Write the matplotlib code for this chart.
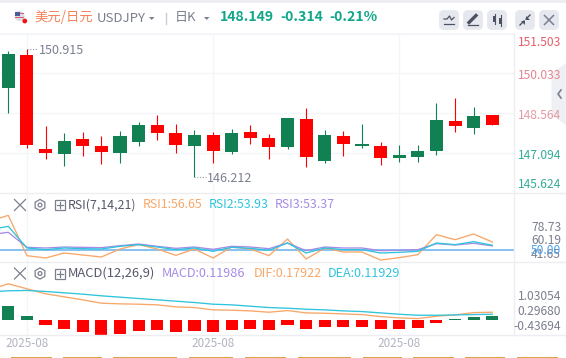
import matplotlib
matplotlib.use("Agg")
import matplotlib.pyplot as plt
from matplotlib.patches import FancyBboxPatch, Polygon, Circle, Rectangle, RegularPolygon

plt.rcParams['font.family'] = ['Noto Sans CJK SC', 'DejaVu Sans']

# ---------- data ----------
opens = [149.494, 150.707, 147.253, 147.070, 147.621, 147.363, 147.106, 147.510, 148.135, 147.841,
         147.363, 147.768, 147.143, 147.878, 147.657, 147.327, 148.355, 146.812, 147.731, 147.363,
         147.363, 146.923, 146.959, 147.180, 148.282, 148.025, 148.502]
highs = [150.854, 150.915, 148.098, 147.841, 147.878, 147.731, 147.914, 148.245, 148.502, 148.172,
         147.951, 147.878, 147.988, 148.135, 147.804, 148.392, 148.759, 147.951, 147.914, 148.172,
         147.510, 147.400, 147.400, 148.943, 149.127, 148.796, 148.502]
lows = [148.576, 147.290, 146.886, 146.629, 146.996, 146.702, 146.739, 147.363, 147.584, 147.106,
        146.212, 146.739, 147.070, 147.437, 146.886, 147.253, 146.592, 146.739, 146.996, 147.290,
        146.665, 146.776, 146.776, 147.033, 147.878, 147.804, 148.149]
closes = [150.743, 147.400, 147.106, 147.547, 147.363, 147.143, 147.731, 148.135, 147.841, 147.400,
          147.768, 147.180, 147.841, 147.657, 147.327, 148.392, 146.959, 147.768, 147.437, 147.437,
          146.923, 147.033, 147.180, 148.319, 148.098, 148.466, 148.149]
price_ticks = [151.503, 150.033, 148.564, 147.094, 145.624]
date_labels = ['2025-08', '2025-08', '2025-08']
date_index = [1, 11, 21]

rsi_x = list(range(-1, 27))
rsi1 = [73.75, 78.73, 45.30, 43.37, 47.51, 45.86, 44.20, 50.83, 54.42, 50.83, 45.58, 50.83, 43.37, 52.49,
        50.83, 45.30, 59.11, 42.54, 51.66, 48.34, 48.34, 41.65, 43.65, 46.13, 62.71, 58.56, 63.26, 56.65]
rsi2 = [66.85, 69.61, 51.66, 50.28, 51.66, 51.10, 50.83, 53.04, 54.42, 52.49, 50.28, 51.66, 48.90, 52.21,
        51.38, 49.72, 55.80, 47.51, 51.66, 50.28, 50.28, 47.51, 48.07, 48.90, 55.80, 54.42, 56.91, 53.93]
rsi3 = [62.71, 64.64, 52.21, 51.66, 52.49, 52.21, 51.93, 53.59, 54.97, 53.04, 51.38, 52.49, 50.55, 53.04,
        52.49, 51.10, 55.80, 49.45, 52.49, 51.66, 51.66, 49.45, 49.72, 50.28, 55.25, 54.14, 55.52, 53.37]
rsi_mid = 50.0

macd_bar = [0.42, 0.12, -0.15, -0.27, -0.36, -0.45, -0.42, -0.33, -0.30, -0.36, -0.33, -0.36, -0.30, -0.27,
            -0.30, -0.15, -0.26, -0.21, -0.21, -0.21, -0.27, -0.27, -0.24, -0.09, 0.02, 0.09, 0.12]
dif = [0.90, 1.08, 0.93, 0.78, 0.69, 0.60, 0.50, 0.48, 0.47, 0.45, 0.39, 0.37, 0.30, 0.29,
       0.27, 0.23, 0.28, 0.21, 0.20, 0.18, 0.16, 0.10, 0.06, 0.04, 0.11, 0.15, 0.22, 0.23]
dea = [0.84, 0.87, 0.88, 0.85, 0.81, 0.77, 0.72, 0.68, 0.64, 0.60, 0.56, 0.52, 0.47, 0.45,
       0.41, 0.37, 0.35, 0.32, 0.30, 0.27, 0.25, 0.21, 0.17, 0.14, 0.14, 0.15, 0.16, 0.17]

# ---------- styles ----------
W, H = 566, 358
UP = '#118154'
DOWN = '#ff0000'
GRID = '#f4f5f8'
SEP = '#eceef2'
ORANGE = '#f9a768'
CYAN = '#2fc4dc'
PURPLE = '#a58be6'
TEAL = '#12a78a'
GREY = '#7b7f8e'
XMIN, XMAX = -0.446, 27.15
PLOT_R = 513.7

fig = plt.figure(figsize=(W / 100, H / 100), dpi=100, facecolor='white')


def panel(top, bottom):
    ax = fig.add_axes([0, 1 - bottom / H, PLOT_R / W, (bottom - top) / H])
    ax.set_xlim(XMIN, XMAX)
    for s in ax.spines.values():
        s.set_visible(False)
    ax.set_xticks(date_index)
    ax.tick_params(length=0, labelbottom=False, labelleft=False)
    ax.grid(axis='x', color=GRID, lw=1)
    ax.set_axisbelow(True)
    ax.patch.set_alpha(0)
    return ax


# ---------- price ----------
ax = panel(33, 193.5)
ax.set_ylim(145.624, 151.52)
ax.set_yticks(price_ticks)
ax.yaxis.grid(True, color=GRID, lw=1)
idx = range(len(opens))
colors = [UP if c > o else DOWN for o, c in zip(opens, closes)]
ax.vlines(idx, lows, highs, colors=colors, lw=0.8)
ax.bar(idx, [abs(c - o) for o, c in zip(opens, closes)], bottom=[min(o, c) for o, c in zip(opens, closes)],
       width=0.7, color=colors, linewidth=0)

hi = max(highs)
i_hi = highs.index(hi)
lo = min(lows)
i_lo = lows.index(lo)
ax.plot([i_hi, i_hi + 0.62], [hi, hi], color='#9a9dab', lw=0.8, ls=(0, (1, 1.5)))
ax.text(i_hi + 0.66, hi - 0.02, f'{hi:.3f}', color=GREY, fontsize=9.0, va='center', ha='left')
ax.plot([i_lo, i_lo + 0.62], [lo, lo], color='#9a9dab', lw=0.8, ls=(0, (1, 1.5)))
ax.text(i_lo + 0.66, lo - 0.04, f'{lo:.3f}', color=GREY, fontsize=9.0, va='center', ha='left')

# ---------- RSI ----------
ax2 = panel(193, 262)
ax2.set_ylim(40.05, 97.24)
ax2.axhline(rsi_mid, color='#84c1f2', lw=1.4, zorder=1)
ax2.plot(rsi_x, rsi1, color=ORANGE, lw=0.95)
ax2.plot(rsi_x, rsi3, color=PURPLE, lw=0.95)
ax2.plot(rsi_x, rsi2, color=CYAN, lw=0.95)

# ---------- MACD ----------
ax3 = panel(262, 335)
ax3.set_ylim(-0.45, 1.73)
bar_colors = [UP if v > 0 else DOWN for v in macd_bar]
ax3.bar(range(len(macd_bar)), macd_bar, width=0.65, color=bar_colors, linewidth=0)
ax3.plot(rsi_x, dif, color=ORANGE, lw=0.95)
ax3.plot(rsi_x, dea, color=CYAN, lw=0.95)

# ---------- overlay in pixels ----------
ov = fig.add_axes([0, 0, 1, 1])
ov.set_xlim(0, W)
ov.set_ylim(H, 0)
ov.axis('off')
ov.patch.set_alpha(0)


def txt(x, y, s, c, size=8.4, ha='left', **kw):
    ov.text(x, y, s, color=c, fontsize=size, ha=ha, va='center', **kw)


ov.add_patch(Rectangle((0, 0), W, 3, color=SEP, lw=0))
ov.plot([0, PLOT_R], [34, 34], color=GRID, lw=1)
for yy in (193, 262, 335):
    ov.plot([0, W], [yy, yy], color=SEP, lw=1)
ov.plot([PLOT_R, PLOT_R], [34, 335], color=SEP, lw=1)

# header
ov.add_patch(Circle((19.5, 16), 5, color='#d9dbe6', lw=0))
ov.add_patch(Rectangle((15, 11.5), 4.5, 4, color='#4a5a9a', lw=0))
ov.add_patch(Rectangle((19.5, 13), 4.5, 1, color='#d9606a', lw=0))
ov.add_patch(Rectangle((15, 17), 9, 1, color='#d9606a', lw=0))
ov.add_patch(Circle((24.8, 21), 2.4, color='#f01414', lw=0))
txt(34, 17, '美元/日元', '#f5825a', size=9.6)
txt(96.5, 18.5, 'USDJPY', GREY, size=9.5)
ov.add_patch(Polygon([[149, 17], [154.5, 17], [151.7, 20]], color=GREY, lw=0))
ov.plot([165.5, 165.5], [13, 24], color='#c9ccd6', lw=1)
txt(175, 17, '日K', GREY, size=9.4)
ov.add_patch(Polygon([[204, 17], [209.5, 17], [206.7, 20]], color=GREY, lw=0))
txt(220, 17, '148.149', TEAL, size=10.1, fontweight='bold')
txt(280, 17, '-0.314', TEAL, size=10.1, fontweight='bold')
txt(329, 17, '-0.21%', TEAL, size=10.1, fontweight='bold')

# toolbar buttons
for bx in (439, 463, 487, 515, 539):
    ov.add_patch(FancyBboxPatch((bx + 1.5, 11.5), 17, 17, boxstyle='round,pad=0,rounding_size=3',
                                mutation_aspect=1, fc='#e6e8ef', ec='#e6e8ef', lw=2))
ICON = '#4e5260'
ov.plot([444, 447, 449.5, 451.5, 454], [19, 19, 16, 20, 17.5], color=ICON, lw=0.9)
ov.plot([444, 454], [24, 24], color=ICON, lw=0.9)
ov.plot([469, 476], [22.5, 15.5], color=ICON, lw=2.4)
ov.plot([468, 478], [25, 25], color=ICON, lw=0.9)
ov.add_patch(Rectangle((493, 16), 3, 6, color=ICON, lw=0))
ov.plot([494.5, 494.5], [14, 24], color=ICON, lw=0.8)
ov.add_patch(Rectangle((499, 18), 3, 6, color=ICON, lw=0))
ov.plot([500.5, 500.5], [15, 26], color=ICON, lw=0.8)
ov.plot([520, 524], [25, 21], color=ICON, lw=1)
ov.plot([526, 530], [19, 15], color=ICON, lw=1)
ov.add_patch(Polygon([[520.5, 20.5], [524.5, 20.5], [524.5, 24.5]], color=ICON, lw=0))
ov.add_patch(Polygon([[525.5, 15.5], [525.5, 19.5], [529.5, 19.5]], color=ICON, lw=0))
ov.plot([544.5, 553.5], [15.5, 24.5], color=GREY, lw=1.1)
ov.plot([544.5, 553.5], [24.5, 15.5], color=GREY, lw=1.1)

# right-hand price labels
price_pos = [42, 75.5, 115.5, 155.5, 184.5]
price_cols = ['#e25f6e', '#e58692', '#e39aa3', '#35ad97', '#35ad97']
ov.add_patch(Polygon([[551.5, 73], [566, 63], [566, 125], [551.5, 115]], color='#eceef2', lw=0, alpha=0.85, zorder=1))
for p, yy, c in zip(price_ticks, price_pos, price_cols):
    txt(561, yy, f'{p:.3f}', c, size=8.7, ha='right', zorder=3)
ov.plot([561, 558, 561], [90, 94, 98], color=GREY, lw=1.2, zorder=4)

# indicator headers
for yy, lab, sz in ((205, 'RSI(7,14,21)', 8.9), (273.5, 'MACD(12,26,9)', 9.3)):
    ov.plot([14.5, 25.5], [yy - 5.5, yy + 5.5], color=GREY, lw=0.9)
    ov.plot([14.5, 25.5], [yy + 5.5, yy - 5.5], color=GREY, lw=0.9)
    ov.add_patch(RegularPolygon((40, yy), 6, radius=5.6, fc='none', ec=GREY, lw=0.9))
    ov.add_patch(Circle((40, yy), 1.9, fc='none', ec=GREY, lw=0.9))
    ov.add_patch(Rectangle((54.5, yy - 5), 10, 10, fc='none', ec=GREY, lw=0.9))
    ov.plot([56.5, 62.5], [yy, yy], color=GREY, lw=0.9)
    ov.plot([59.5, 59.5], [yy - 3, yy + 3], color=GREY, lw=0.9)
    txt(68, yy, lab, '#55586a', size=sz)
txt(142.5, 205, f'RSI1:{rsi1[-1]:.2f}', ORANGE, size=8.9)
txt(209, 205, f'RSI2:{rsi2[-1]:.2f}', CYAN, size=8.9)
txt(275, 205, f'RSI3:{rsi3[-1]:.2f}', PURPLE, size=8.9)
txt(161.5, 273.5, 'MACD:0.11986', PURPLE, size=9.1)
txt(254, 273.5, 'DIF:0.17922', ORANGE, size=9.1)
txt(328, 273.5, 'DEA:0.11929', CYAN, size=9.1)

# indicator axis labels
for s, yy in (('78.73', 227.3), ('41.65', 255), ('60.19', 240.7)):
    txt(561, yy, s, GREY, size=8.7, ha='right')
txt(561, 250.3, '50.00', '#4aa3ef', size=8.7, ha='right')
for s, yy in (('1.03054', 296), ('0.29680', 311.5), ('-0.43694', 326.5)):
    txt(561, yy, s, GREY, size=8.7, ha='right')

# date labels
for i, s in zip(date_index, date_labels):
    x_px = (i - XMIN) / (XMAX - XMIN) * PLOT_R
    txt(x_px, 343.5, s, '#b2b5c2', size=8.4, ha='center')

# gold strip along the bottom edge
for x0, x1 in ((10.8, 51.6), (62.5, 101.5), (112.6, 177), (188.8, 233), (244.8, 286),
               (298, 351), (363, 401.5), (412.6, 453.5), (464.6, 505.4), (516.6, 558)):
    ov.add_patch(Rectangle((x0, 357), x1 - x0, 1, color='#d9a441', lw=0))

fig.savefig('out.png', dpi=100)
